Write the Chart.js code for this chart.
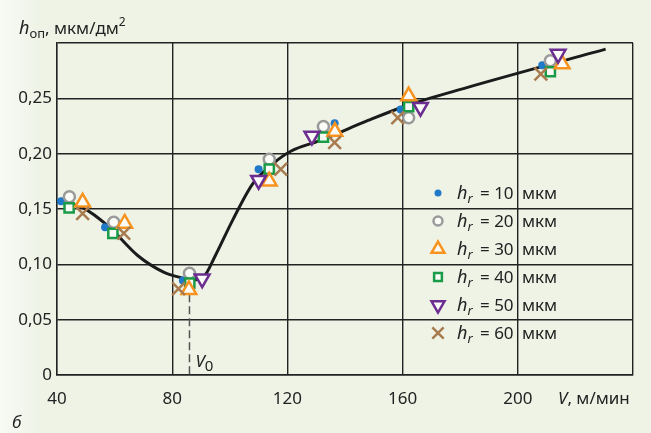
<!DOCTYPE html>
<html>
<head>
<meta charset="utf-8">
<script src="https://cdn.jsdelivr.net/npm/chart.js@4.4.1/dist/chart.umd.min.js"></script>
<style>
  html, body { margin: 0; padding: 0; }
  body { width: 651px; height: 433px; background: linear-gradient(to right, #f8faf5 0px, #eef3e6 40px); }
  #wrap { position: relative; width: 651px; height: 433px; }
</style>
</head>
<body>
<div id="wrap"><canvas id="chart" width="651" height="433"></canvas></div>
<script>
// axis ticks
const xTicks = [40, 80, 120, 160, 200];
const yTicks = [0, 0.05, 0.10, 0.15, 0.20, 0.25];
const v0 = 86;

// fitted curve
const curveV = [40, 49, 58, 68, 77, 83, 87, 91, 95, 101, 108, 115, 121, 132, 148, 162, 182, 230.5];
const curveH = [0.157, 0.151, 0.134, 0.108, 0.093, 0.088, 0.086, 0.089, 0.108, 0.140, 0.173, 0.191, 0.202, 0.2125, 0.230, 0.244, 0.2595, 0.2945];

// measured points, h_r = 10..60 мкм
const hrLabels = [10, 20, 30, 40, 50, 60];
const v10 = [41.4, 56.7, 83.7, 110.0, 136.4, 159.3, 208.5];
const h10 = [0.157, 0.1335, 0.0855, 0.186, 0.2275, 0.240, 0.280];
const v20 = [44.3, 59.7, 86.0, 113.7, 132.5, 162.1, 211.3];
const h20 = [0.161, 0.138, 0.092, 0.195, 0.2245, 0.2325, 0.284];
const v30 = [48.9, 63.5, 85.8, 113.7, 136.5, 162.1, 215.4];
const h30 = [0.156, 0.137, 0.077, 0.175, 0.220, 0.252, 0.281];
const v40 = [44.2, 59.4, 86.1, 113.7, 132.5, 162.1, 211.3];
const h40 = [0.151, 0.128, 0.083, 0.186, 0.215, 0.2425, 0.274];
const v50 = [90.4, 110.0, 128.5, 166.2, 214.0];
const h50 = [0.087, 0.176, 0.216, 0.242, 0.290];
const v60 = [48.9, 63.2, 82.2, 117.7, 136.4, 158.3, 208.0];
const h60 = [0.146, 0.128, 0.078, 0.186, 0.210, 0.2325, 0.272];

const FONT = '"Noto Sans", sans-serif';
const INK = '#222';
const FILL = '#fbfcf8';

const pts = (xs, ys) => xs.map((x, i) => ({ x: x, y: ys[i] }));

const markers = [
  { v: v10, h: h10, style: 'circle', radius: 4, color: '#1f78c8', fill: '#1f78c8', width: 0, rot: 0, order: 6 },
  { v: v20, h: h20, style: 'circle', radius: 5.5, color: '#9a9a9a', fill: FILL, width: 2.5, rot: 0, order: 5 },
  { v: v30, h: h30, style: 'triangle', radius: 8.5, color: '#f7931e', fill: FILL, width: 2.5, rot: 0, order: 3 },
  { v: v40, h: h40, style: 'rect', radius: 6.5, color: '#1a9b48', fill: FILL, width: 2.5, rot: 0, order: 4 },
  { v: v50, h: h50, style: 'triangle', radius: 8.5, color: '#6b2d8f', fill: FILL, width: 2.5, rot: 180, order: 2 },
  { v: v60, h: h60, style: 'crossRot', radius: 9, color: '#a87b4f', fill: '#a87b4f', width: 2.5, rot: 0, order: 1 }
];

const datasets = markers.map((m, i) => ({
  label: 'h_r = ' + hrLabels[i] + ' мкм',
  data: pts(m.v, m.h),
  showLine: false,
  pointStyle: m.style,
  pointRadius: m.radius,
  pointRotation: m.rot,
  pointBorderWidth: m.width,
  pointBorderColor: m.color,
  pointBackgroundColor: m.fill,
  order: m.order
}));

datasets.push({
  label: 'curve',
  data: pts(curveV, curveH),
  showLine: true,
  borderColor: '#1b1b1b',
  borderWidth: 3,
  pointRadius: 0,
  cubicInterpolationMode: 'monotone',
  order: 10
});

// text in one line, pieces may be italic / sub / sup
function drawRuns(ctx, x, y, runs) {
  ctx.textBaseline = 'alphabetic';
  ctx.textAlign = 'left';
  runs.forEach((r) => {
    ctx.font = (r.italic ? 'italic ' : '') + (r.size || 17) + 'px ' + FONT;
    ctx.fillStyle = INK;
    if (r.at !== undefined) x = r.at;
    ctx.fillText(r.t, x, y + (r.dy || 0));
    x += ctx.measureText(r.t).width;
  });
}

const extras = {
  id: 'extras',
  beforeDatasetsDraw(chart) {
    const ctx = chart.ctx;
    const xs = chart.scales.x, ys = chart.scales.y;
    const px = xs.getPixelForValue(v0);
    ctx.save();
    ctx.strokeStyle = '#555';
    ctx.lineWidth = 1.5;
    ctx.setLineDash([8, 4]);
    ctx.beginPath();
    ctx.moveTo(px, ys.getPixelForValue(0.073));
    ctx.lineTo(px, ys.getPixelForValue(0));
    ctx.stroke();
    ctx.restore();
  },
  afterDraw(chart) {
    const ctx = chart.ctx;
    const xs = chart.scales.x;
    ctx.save();
    // axis titles
    drawRuns(ctx, 19, 34, [
      { t: 'h', italic: true, size: 18 },
      { t: 'оп', size: 13, dy: 4 },
      { t: ', мкм/дм' },
      { t: '2', size: 12, dy: -8 }
    ]);
    drawRuns(ctx, 558, 404, [
      { t: 'V', italic: true },
      { t: ', м/мин' }
    ]);
    drawRuns(ctx, 12, 428, [{ t: 'б', italic: true }]);
    drawRuns(ctx, xs.getPixelForValue(v0) + 6, 367, [
      { t: 'V', italic: true },
      { t: '0', size: 15, dy: 4 }
    ]);
    // legend
    markers.forEach((m, i) => {
      const y = 193 + i * 28;
      ctx.strokeStyle = m.color;
      ctx.fillStyle = m.fill;
      ctx.lineWidth = m.width;
      Chart.helpers.drawPoint(ctx, {
        pointStyle: m.style,
        radius: m.style === 'circle' && m.width === 0 ? 3.5 : m.radius - 1,
        rotation: m.rot,
        borderWidth: m.width
      }, 438, y);
      drawRuns(ctx, 457, y + 6, [
        { t: 'h', italic: true, size: 18 },
        { t: 'r', italic: true, size: 13, dy: 4 },
        { t: '= ' + hrLabels[i], at: 480 },
        { t: 'мкм', at: 522 }
      ]);
    });
    ctx.restore();
  }
};

new Chart(document.getElementById('chart'), {
  type: 'scatter',
  data: { datasets: datasets },
  plugins: [extras],
  options: {
    responsive: false,
    animation: false,
    layout: { padding: { top: 43, right: 18, left: 0, bottom: 0 } },
    plugins: {
      legend: { display: false },
      tooltip: { enabled: false }
    },
    scales: {
      x: {
        type: 'linear',
        min: 40,
        max: 240,
        afterFit: (s) => { s.height = 58; },
        afterBuildTicks: (s) => { s.ticks = xTicks.concat([240]).map((v) => ({ value: v })); },
        grid: { color: INK, lineWidth: 1.4, drawTicks: false },
        border: { color: INK, width: 1.4 },
        ticks: {
          padding: 14,
          color: INK,
          font: { family: FONT, size: 17 },
          callback: (v) => (xTicks.includes(v) ? String(v) : '')
        }
      },
      y: {
        type: 'linear',
        min: 0,
        max: 0.3,
        afterFit: (s) => { s.width = 57; },
        afterBuildTicks: (s) => { s.ticks = yTicks.concat([0.3]).map((v) => ({ value: v })); },
        grid: { color: INK, lineWidth: 1.4, drawTicks: false },
        border: { color: INK, width: 1.4 },
        ticks: {
          padding: 5,
          color: INK,
          font: { family: FONT, size: 17 },
          callback: (v) => {
            if (v > 0.28) return '';
            if (v === 0) return '0';
            return v.toFixed(2).replace('.', ',');
          }
        }
      }
    }
  }
});
</script>
</body>
</html>
